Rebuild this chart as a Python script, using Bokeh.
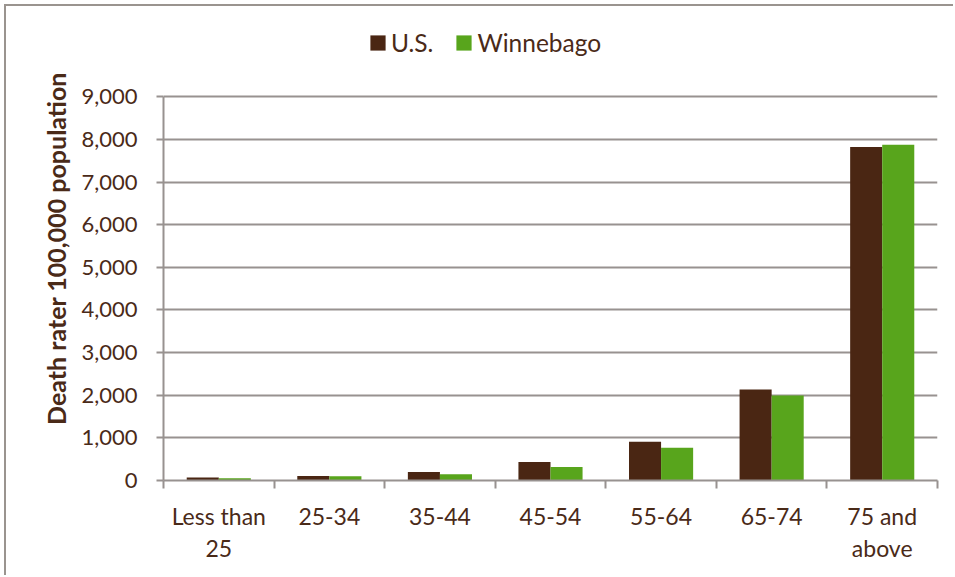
import numpy as np
from bokeh.plotting import figure
from bokeh.models import FixedTicker, Legend, LegendItem, ColumnDataSource, NumeralTickFormatter
from bokeh.embed import file_html
from bokeh.resources import INLINE

categories = ["Less than 25", "25-34", "35-44", "45-54", "55-64", "65-74", "75 and above"]
tick_labels = ["Less than\n25", "25-34", "35-44", "45-54", "55-64", "65-74", "75 and\nabove"]
us = [70, 105, 200, 435, 910, 2135, 7825]
winnebago = [50, 100, 145, 315, 770, 1995, 7875]
series_names = ["U.S.", "Winnebago"]
y_ticks = [0, 1000, 2000, 3000, 4000, 5000, 6000, 7000, 8000, 9000]
y_label = "Death rater 100,000 population"

TEXT = "#4a2a18"
GRID = "#989290"
FONT = "Lato"
US_COLOR = "#4a2613"
WI_COLOR = "#58a51c"

# layout (pixels)
W, H = 947, 569
B_LEFT, B_RIGHT, B_TOP, B_BOTTOM = 157, 18, 10, 97
AXIS_TOP = 90          # canvas y of the top tick
frame_h = H - B_TOP - B_BOTTOM
axis_h = H - B_BOTTOM - AXIS_TOP
y_max = y_ticks[-1]
y_end = y_max * frame_h / axis_h

n = len(categories)
idx = np.arange(n)
centers = idx + 0.5
bw = 0.29

src = ColumnDataSource(dict(
    cat=categories,
    x_us=centers - bw / 2,
    x_wi=centers + bw / 2,
    us=us,
    wi=winnebago,
))

p = figure(width=W, height=H, x_range=(0, n), y_range=(0, y_end),
           output_backend="svg", toolbar_location=None,
           min_border_left=B_LEFT, min_border_right=B_RIGHT,
           min_border_top=B_TOP, min_border_bottom=B_BOTTOM)
p.styles = {"margin-left": "4px", "margin-top": "4px",
            "border-left": "2px solid #9a948f", "border-top": "2px solid #9a948f",
            "box-sizing": "content-box"}
p.outline_line_color = None
p.background_fill_color = "white"
p.border_fill_color = "white"

r_us = p.vbar(x="x_us", top="us", width=bw, source=src, fill_color=US_COLOR, line_color=None)
r_wi = p.vbar(x="x_wi", top="wi", width=bw, source=src, fill_color=WI_COLOR, line_color=None)

# grid
p.xgrid.visible = False
p.ygrid.ticker = FixedTicker(ticks=y_ticks)
p.ygrid.grid_line_color = GRID
p.ygrid.grid_line_width = 2
p.ygrid.level = "underlay"

# y axis
ya = p.yaxis[0]
ya.ticker = FixedTicker(ticks=y_ticks)
ya.bounds = (y_ticks[0], y_ticks[-1])
ya.formatter = NumeralTickFormatter(format="0,0")
ya.axis_line_color = GRID
ya.axis_line_width = 2
ya.major_tick_line_color = GRID
ya.major_tick_line_width = 2
ya.major_tick_out = 7
ya.major_tick_in = 0
ya.minor_tick_line_color = None
ya.major_label_text_font = FONT
ya.major_label_text_font_size = "22px"
ya.major_label_text_color = TEXT
ya.major_label_standoff = 19
ya.axis_label = y_label
ya.axis_label_text_font = FONT
ya.axis_label_text_font_size = "25px"
ya.axis_label_text_font_style = "bold"
ya.axis_label_text_color = TEXT
ya.axis_label_standoff = 7

# x axis
xa = p.xaxis[0]
xa.ticker = FixedTicker(ticks=list(centers), minor_ticks=list(range(n + 1)))
xa.major_label_overrides = {float(c): lab for c, lab in zip(centers, tick_labels)}
xa.axis_line_color = GRID
xa.axis_line_width = 2
xa.major_tick_line_color = None
xa.major_tick_out = 0
xa.major_tick_in = 0
xa.minor_tick_line_color = GRID
xa.minor_tick_line_width = 2
xa.minor_tick_out = 8
xa.minor_tick_in = 0
xa.major_label_text_font = FONT
xa.major_label_text_font_size = "23px"
xa.major_label_text_color = TEXT
xa.major_label_text_line_height = 1.17
xa.major_label_standoff = 13

legend = Legend(items=[LegendItem(label=series_names[0], renderers=[r_us]),
                       LegendItem(label=series_names[1], renderers=[r_wi])],
                orientation="horizontal", location=(205, 423))
legend.label_text_font = FONT
legend.label_text_font_size = "24.5px"
legend.label_text_color = TEXT
legend.glyph_width = 19
legend.glyph_height = 19
legend.label_standoff = 4
legend.spacing = 21
legend.padding = 0
legend.margin = 0
legend.border_line_color = None
legend.background_fill_alpha = 0
p.add_layout(legend, "center")

open("out.html", "w").write(file_html(p, INLINE))
